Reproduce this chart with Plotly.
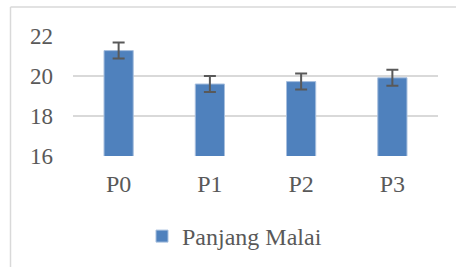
import plotly.graph_objects as go

categories = ["P0", "P1", "P2", "P3"]
values = [21.27, 19.6, 19.72, 19.91]
errors = [0.4, 0.4, 0.4, 0.4]
series_name = "Panjang Malai"
y_ticks = [16, 18, 20, 22]

FONT = "Liberation Serif"
TXT = "#595959"
GRID = "#D9D9D9"

fig = go.Figure()
fig.add_trace(go.Bar(
    x=categories, y=values, name=series_name,
    marker=dict(color="#4F81BD", line=dict(color="#A7BFDE", width=1)),
    error_y=dict(type="data", array=errors, visible=True,
                 color="#595959", thickness=2, width=6),
    showlegend=True,
))

W, H = 456, 267
L, R, T, B = 73, 18, 36, 111
pw = W - L - R
ph = H - T - B

def px_x(p):
    return (p - L) / pw

def px_y(p):
    return (H - B - p) / ph

fig.update_layout(
    width=W, height=H,
    margin=dict(l=L, r=R, t=T, b=B, pad=0, autoexpand=False),
    paper_bgcolor="white", plot_bgcolor="white",
    font=dict(family=FONT, size=24, color=TXT),
    bargap=0.68,
    xaxis=dict(showgrid=False, showline=False, ticks="", ticklabelstandoff=11,
               automargin=False,
               tickfont=dict(family=FONT, size=24, color=TXT)),
    yaxis=dict(range=[16, 22], tickvals=y_ticks, showgrid=True, gridcolor=GRID,
               gridwidth=1.5, zeroline=False, showline=False, ticks="",
               automargin=False,
               ticklabelstandoff=19, tickfont=dict(family=FONT, size=23, color=TXT)),
    legend=dict(orientation="h", x=px_x(142), y=px_y(214), xanchor="left",
                yanchor="top", font=dict(family=FONT, size=24, color=TXT),
                bgcolor="rgba(0,0,0,0)"),
    shapes=[
        dict(type="line", xref="paper", yref="paper",
             x0=px_x(10.5), x1=px_x(10.5), y0=px_y(7), y1=px_y(270),
             line=dict(color=GRID, width=1.5)),
        dict(type="line", xref="paper", yref="paper",
             x0=px_x(10.5), x1=px_x(460), y0=px_y(7), y1=px_y(7),
             line=dict(color=GRID, width=1.5)),
    ],
)

fig.write_html("out.html", config={"displayModeBar": False},
               post_script="document.body.style.margin='0';document.body.style.overflow='hidden';")
